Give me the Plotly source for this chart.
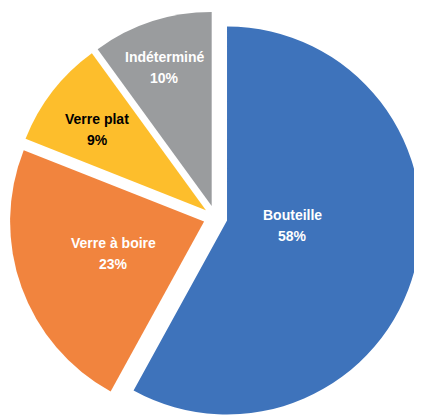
import math
import plotly.graph_objects as go

labels = ["Bouteille", "Verre à boire", "Verre plat", "Indéterminé"]
values = [58, 23, 9, 10]

# styling
colors = ["#3E73BB", "#F1843E", "#FDBE2C", "#9A9C9E"]
text_colors = ["white", "white", "black", "white"]
label_dist = [0.402, 0.554, 0.760, 0.816]   # fraction of radius
label_shift = [-8.5, 0.5, -1.2, -0.6]        # degrees

BODY = 8  # default page margin of the html body
W, H = 414, 416
cx, cy, r, pull = 215.4 - BODY, 217.5 - BODY, 194.0, 0.0619
half = r * (1 + pull)
dom_x = [max(0, (cx - half) / W), min(1, (cx + half) / W)]
dom_y = [max(0, (H - (cy + half)) / H), min(1, (H - (cy - half)) / H)]

fig = go.Figure(go.Pie(
    labels=labels, values=values, sort=False, direction="clockwise", rotation=0,
    pull=[pull] * len(values),
    marker=dict(colors=colors, line=dict(width=0)),
    textinfo="none", showlegend=False, hoverinfo="label+percent",
    domain=dict(x=dom_x, y=dom_y),
))

total = sum(values)
cum = 0
font = "Liberation Sans, Arial, sans-serif"
for lab, v, tc, f, s in zip(labels, values, text_colors, label_dist, label_shift):
    mid = (cum + v / 2) / total * 360 + s
    cum += v
    a = math.radians(mid)
    px = cx + f * r * math.sin(a)
    py = cy - f * r * math.cos(a)
    xp, yp = px / W, 1 - py / H
    pct = f"{round(v / total * 100)}%"
    for txt, ys in ((lab, 10.5), (pct, -10.5)):
        fig.add_annotation(x=xp, y=yp, xref="paper", yref="paper", text=f"<b>{txt}</b>",
                           showarrow=False, yshift=ys, xanchor="center", yanchor="middle",
                           font=dict(family=font, size=14, color=tc))

fig.update_layout(width=W, height=H, margin=dict(l=0, r=0, t=0, b=0),
                  paper_bgcolor="white")
fig.write_html("out.html",
               post_script="document.documentElement.style.overflow='hidden';"
                           "document.body.style.overflow='hidden';")
